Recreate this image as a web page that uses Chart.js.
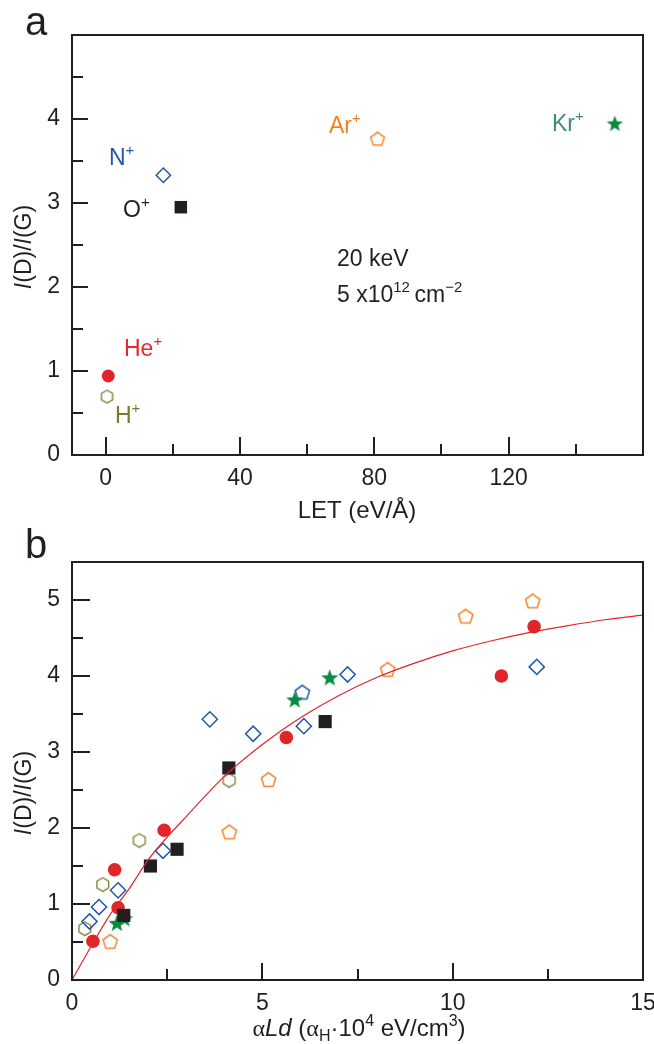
<!DOCTYPE html>
<html>
<head>
<meta charset="utf-8">
<script src="https://cdn.jsdelivr.net/npm/chart.js@4.4.1/dist/chart.umd.min.js"></script>
<style>
  body { margin: 0; background: #fff; }
  #wrap { position: relative; width: 654px; height: 1044px; }
  canvas { position: absolute; left: 0; }
</style>
</head>
<body>
<div id="wrap">
  <canvas id="chartA" width="654" height="524" style="top:0"></canvas>
  <canvas id="chartB" width="654" height="520" style="top:524px"></canvas>
</div>
<script>
// ---- panel a: I(D)/I(G) against LET, one point per ion ----
const ionNames = ['H', 'He', 'N', 'O', 'Ar', 'Kr'];
const letValues = [0.3, 0.8, 17.2, 22.4, 80.9, 151.6];
const ratioA = [0.70, 0.94, 3.33, 2.95, 3.77, 3.94];

const letTicks = [0, 20, 40, 60, 80, 100, 120, 140];
const letTickLabels = [0, 40, 80, 120];
const ratioTicksA = [0, 0.5, 1, 1.5, 2, 2.5, 3, 3.5, 4, 4.5];
const ratioTickLabelsA = [0, 1, 2, 3, 4];

// ---- panel b: I(D)/I(G) against alpha*L*d ----
const hX = [0.33, 0.80, 1.76, 4.12];
const hY = [0.68, 1.26, 1.84, 2.63];
const heX = [0.55, 1.12, 1.21, 2.42, 5.63, 11.28, 12.14];
const heY = [0.51, 1.45, 0.95, 1.97, 3.19, 4.00, 4.65];
const nX = [0.46, 0.71, 1.21, 2.39, 3.62, 4.76, 6.09, 7.24, 12.21];
const nY = [0.77, 0.96, 1.18, 1.70, 3.43, 3.24, 3.34, 4.02, 4.12];
const oX = [1.36, 2.06, 2.76, 4.12, 6.65];
const oY = [0.85, 1.50, 1.72, 2.79, 3.40];
const arX = [1.00, 4.13, 5.16, 8.29, 10.34, 12.10];
const arY = [0.51, 1.95, 2.64, 4.09, 4.79, 4.99];
const arBlueX = [6.05];
const arBlueY = [3.79];
const krX = [1.18, 1.38, 5.85, 6.77];
const krY = [0.74, 0.80, 3.68, 3.97];

// red fitted curve
const fitX = [0, 0.5, 1, 1.5, 2, 2.5, 3, 4, 5, 6, 7, 8, 9, 10, 11, 12, 13, 14, 15];
const fitY = [0, 0.44, 0.86, 1.20, 1.58, 1.88, 2.15, 2.68, 3.10, 3.45, 3.74, 3.98, 4.17, 4.33, 4.46, 4.57, 4.66, 4.74, 4.80];

const doseTicks = [0, 2.5, 5, 7.5, 10, 12.5, 15];
const doseTickLabels = [0, 5, 10, 15];
const ratioTicksB = [0, 0.5, 1, 1.5, 2, 2.5, 3, 3.5, 4, 4.5, 5];
const ratioTickLabelsB = [0, 1, 2, 3, 4, 5];

const INK = '#231f20';
const RED = '#e0262b';
const BLUE = '#2058a8';
const OLIVE = '#84833e';
const ORANGE = '#f0862a';
const GREEN = '#0a8a40';
const SANS = '"Liberation Sans", Arial, sans-serif';
const SERIF = '"Liberation Serif", "DejaVu Serif", serif';

Chart.defaults.font.family = SANS;
Chart.defaults.font.size = 23;
Chart.defaults.color = INK;

// custom markers drawn on small canvases
function marker(size, draw) {
  const c = document.createElement('canvas');
  c.width = c.height = size;
  const g = c.getContext('2d');
  g.translate(size / 2, size / 2);
  draw(g);
  return c;
}
function polygon(g, n, r) {
  g.beginPath();
  for (let i = 0; i < n; i++) {
    const a = -Math.PI / 2 + i * 2 * Math.PI / n;
    g.lineTo(r * Math.cos(a), r * Math.sin(a));
  }
  g.closePath();
}
const hexMarker = r => marker(2 * r + 4, g => { polygon(g, 6, r); g.strokeStyle = OLIVE; g.lineWidth = 1.4; g.stroke(); });
const pentMarker = (r, col) => marker(2 * r + 4, g => { g.translate(0, 0.8); polygon(g, 5, r); g.strokeStyle = col; g.lineWidth = 1.5; g.stroke(); });
const starMarker = r => marker(2 * r + 4, g => {
  g.beginPath();
  for (let i = 0; i < 10; i++) {
    const rr = i % 2 ? r * 0.42 : r;
    const a = -Math.PI / 2 + i * Math.PI / 5;
    g.lineTo(rr * Math.cos(a), rr * Math.sin(a));
  }
  g.closePath();
  g.fillStyle = GREEN;
  g.fill();
});

function ionStyle(ion, k) {
  if (ion === 'He') return { pointStyle: 'circle', pointRadius: 6.8 * k, pointBackgroundColor: RED, pointBorderWidth: 0 };
  if (ion === 'O') return { pointStyle: 'rect', pointRadius: 9.3 * k, pointBackgroundColor: INK, pointBorderWidth: 0 };
  if (ion === 'N') return { pointStyle: 'rectRot', pointRadius: 7.6 * k, pointBackgroundColor: 'rgba(0,0,0,0)', pointBorderColor: BLUE, pointBorderWidth: 1.5 };
  if (ion === 'H') return { pointStyle: hexMarker(6.8 * k), pointRadius: 7 };
  if (ion === 'Ar') return { pointStyle: pentMarker(7.6 * k, ORANGE), pointRadius: 8 };
  if (ion === 'Kr') return { pointStyle: starMarker(9 * k), pointRadius: 9 };
}
const drawOrder = { O: 1, He: 2, Kr: 3, N: 4, H: 5, Ar: 6 };

function scatterSet(xs, ys, style, order) {
  return Object.assign({ data: xs.map((x, i) => ({ x, y: ys[i] })), showLine: false, order }, style);
}

function axis(min, max, ticks, labels, dir, pad, size) {
  return {
    type: 'linear', min, max,
    grid: { display: false, drawTicks: false },
    border: { display: false },
    afterBuildTicks: s => { s.ticks = ticks.map(v => ({ value: v })); },
    afterFit: s => {
      if (dir === 'x') s.height = size; else s.width = size;
      s.paddingLeft = s.paddingRight = s.paddingTop = s.paddingBottom = 0;
    },
    ticks: {
      padding: pad, autoSkip: false, maxRotation: 0, minRotation: 0,
      callback: v => labels.includes(v) ? String(v) : ''
    }
  };
}

// text with italic, greek, sub- and superscript parts
function drawRich(ctx, parts, x, y, size, color, align) {
  const segs = parts.map(([t, k]) => {
    const small = k === 'sup' || k === 'sub';
    const s = small ? Math.round(size * 0.66) : size;
    const font = (k === 'i' ? 'italic ' : '') + s + 'px ' + (k === 'g' ? SERIF : SANS);
    ctx.font = font;
    const dy = k === 'sup' ? -size * 0.42 : k === 'sub' ? size * 0.22 : 0;
    return { t, font, dy, w: ctx.measureText(t).width };
  });
  const total = segs.reduce((a, s) => a + s.w, 0);
  let cx = align === 'center' ? x - total / 2 : x;
  ctx.fillStyle = color;
  ctx.textAlign = 'left';
  ctx.textBaseline = 'alphabetic';
  segs.forEach(s => { ctx.font = s.font; ctx.fillText(s.t, cx, y + s.dy); cx += s.w; });
}

const yTitle = [['I', 'i'], ['(D)/', ''], ['I', 'i'], ['(G)', '']];

function frameAndTicks(chart, xLabels, yLabels, xLen, yLen) {
  const ctx = chart.ctx;
  const a = chart.chartArea;
  const sx = chart.scales.x, sy = chart.scales.y;
  ctx.save();
  ctx.strokeStyle = INK;
  ctx.lineWidth = 2;
  ctx.beginPath();
  sx.ticks.forEach(t => {
    const px = Math.round(sx.getPixelForValue(t.value));
    const len = xLabels.includes(t.value) ? xLen[0] : xLen[1];
    ctx.moveTo(px, a.bottom);
    ctx.lineTo(px, a.bottom - len);
  });
  sy.ticks.forEach(t => {
    const py = Math.round(sy.getPixelForValue(t.value));
    const len = yLabels.includes(t.value) ? yLen[0] : yLen[1];
    ctx.moveTo(a.left, py);
    ctx.lineTo(a.left + len, py);
  });
  ctx.stroke();
  ctx.strokeRect(a.left, a.top, a.right - a.left, a.bottom - a.top);
  ctx.restore();
}

const decoA = {
  id: 'decoA',
  afterDraw(chart) {
    const ctx = chart.ctx;
    frameAndTicks(chart, letTickLabels, ratioTickLabelsA, [18, 11], [16, 11]);
    ctx.save();
    drawRich(ctx, [['a', '']], 25, 35, 40, INK, 'left');
    drawRich(ctx, [['LET (eV/Å)', '']], 357, 518, 24, INK, 'center');
    ctx.translate(23, 247);
    ctx.rotate(-Math.PI / 2);
    drawRich(ctx, yTitle, 0, 8, 23, INK, 'center');
    ctx.restore();
    ctx.save();
    drawRich(ctx, [['N', ''], ['+', 'sup']], 109, 165, 23, '#2a56a6', 'left');
    drawRich(ctx, [['O', ''], ['+', 'sup']], 123, 217, 23, INK, 'left');
    drawRich(ctx, [['Ar', ''], ['+', 'sup']], 329, 133, 23, '#f08320', 'left');
    drawRich(ctx, [['Kr', ''], ['+', 'sup']], 552, 131, 23, '#3f8c78', 'left');
    drawRich(ctx, [['He', ''], ['+', 'sup']], 124, 356, 23, '#e8262e', 'left');
    drawRich(ctx, [['H', ''], ['+', 'sup']], 115, 423, 23, '#7b7a2c', 'left');
    drawRich(ctx, [['20 keV', '']], 337, 266, 23, INK, 'left');
    drawRich(ctx, [['5 x10', ''], ['12', 'sup'], ['\u2009cm', ''], ['\u22122', 'sup']], 337, 302, 23, INK, 'left');
    ctx.restore();
  }
};

const decoB = {
  id: 'decoB',
  afterDraw(chart) {
    const ctx = chart.ctx;
    frameAndTicks(chart, doseTickLabels, ratioTickLabelsB, [17, 11], [18, 11]);
    ctx.save();
    drawRich(ctx, [['b', '']], 25, 34, 40, INK, 'left');
    drawRich(ctx, [['α', 'g'], ['Ld', 'i'], [' (', ''], ['α', 'g'], ['H', 'sub'], ['·10', ''], ['4', 'sup'], [' eV/cm', ''], ['3', 'sup'], [')', '']], 359, 512, 24, INK, 'center');
    ctx.translate(23, 269);
    ctx.rotate(-Math.PI / 2);
    drawRich(ctx, yTitle, 0, 8, 23, INK, 'center');
    ctx.restore();
  }
};

const common = {
  responsive: false,
  animation: false,
  events: [],
  plugins: { legend: { display: false }, tooltip: { enabled: false } }
};

new Chart(document.getElementById('chartA'), {
  type: 'scatter',
  data: {
    datasets: ionNames.map((ion, i) => scatterSet([letValues[i]], [ratioA[i]], ionStyle(ion, 0.95), drawOrder[ion]))
  },
  options: Object.assign({}, common, {
    layout: { padding: { top: 35, right: 11, left: 0, bottom: 0 } },
    scales: {
      x: axis(-10, 160, letTicks, letTickLabels, 'x', 10, 69),
      y: axis(0, 5, ratioTicksA, ratioTickLabelsA, 'y', 12, 72)
    }
  }),
  plugins: [decoA]
});

const seriesB = { H: [hX, hY], He: [heX, heY], N: [nX, nY], O: [oX, oY], Ar: [arX, arY], Kr: [krX, krY] };
const datasetsB = ionNames.map(ion => scatterSet(seriesB[ion][0], seriesB[ion][1], ionStyle(ion, 1), drawOrder[ion]));
datasetsB.push(scatterSet(arBlueX, arBlueY, { pointStyle: pentMarker(7.6, BLUE), pointRadius: 8 }, 6));
datasetsB.push({
  data: fitX.map((x, i) => ({ x, y: fitY[i] })),
  showLine: true, pointRadius: 0, borderColor: RED, borderWidth: 1.2,
  cubicInterpolationMode: 'monotone', order: 0
});

new Chart(document.getElementById('chartB'), {
  type: 'scatter',
  data: { datasets: datasetsB },
  options: Object.assign({}, common, {
    layout: { padding: { top: 38, right: 11, left: 0, bottom: 0 } },
    scales: {
      x: axis(0, 15, doseTicks, doseTickLabels, 'x', 10, 64),
      y: axis(0, 5.5, ratioTicksB, ratioTickLabelsB, 'y', 12, 72)
    }
  }),
  plugins: [decoB]
});
</script>
</body>
</html>
